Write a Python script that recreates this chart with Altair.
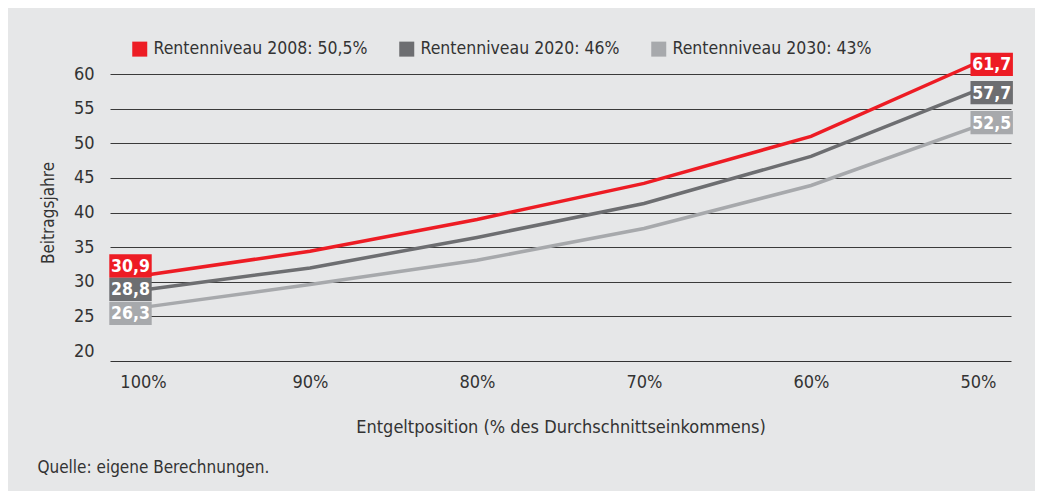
import altair as alt
import pandas as pd

categories = ["100%", "90%", "80%", "70%", "60%", "50%"]
series = ["Rentenniveau 2008: 50,5%", "Rentenniveau 2020: 46%", "Rentenniveau 2030: 43%"]
r2008 = [30.9, 34.4, 39.0, 44.2, 51.0, 61.7]
r2020 = [28.8, 32.0, 36.4, 41.3, 48.1, 57.7]
r2030 = [26.3, 29.6, 33.1, 37.7, 43.9, 52.5]
colors = ["#ed1c24", "#6d6e71", "#a7a9ac"]

rows = []
for s, vals in zip(series, [r2008, r2020, r2030]):
    for c, v in zip(categories, vals):
        rows.append({"series": s, "cat": c, "v": v})
df = pd.DataFrame(rows)

FONT = "DejaVu Sans Condensed, Liberation Sans Narrow, Roboto"
TXT = "#333333"

x = alt.X("cat:N", sort=categories,
          scale=alt.Scale(type="point", padding=0.1976),
          axis=alt.Axis(title="Entgeltposition (% des Durchschnittseinkommens)",
                        labelAngle=0, ticks=False, domainColor="#333333",
                        domainWidth=1.2, offset=10, labelPadding=12,
                        labelFontSize=18, titleFontSize=18, titlePadding=27,
                        titleFontWeight="normal", grid=False))
y = alt.Y("v:Q", scale=alt.Scale(domain=[20, 60], nice=False, zero=False),
          axis=alt.Axis(title="Beitragsjahre", values=list(range(20, 61, 5)),
                        ticks=False, domain=False, labelPadding=16,
                        labelFontSize=18, titleFontSize=17, titlePadding=16,
                        titleFontWeight="normal", grid=True,
                        gridColor="#3a3a3a", gridWidth=1.2,
                        gridOpacity={"condition": {"test": "datum.value == 20", "value": 0}, "value": 1}))

base = alt.Chart(df)
layers = []
for s, col in zip(series, colors):
    layers.append(base.transform_filter(alt.datum.series == s)
                  .mark_line(strokeWidth=3.5, color=col).encode(x=x, y=y))

BOX = "M-1,-0.55H1V0.55H-1Z"
# label box offsets (px) per series: (start dy, end dy)
start_dy = [-9.5, -0.7, 6]
end_dy = [2.1, 2.7, -3.3]
legend = alt.Legend(title=None, orient="none", legendX=21, legendY=-34,
                    direction="horizontal", symbolType="square",
                    symbolSize=225, symbolStrokeWidth=0,
                    labelFontSize=17.5, labelFont=FONT, labelColor=TXT,
                    labelOffset=5, columnPadding=30,
                    symbolOpacity=1, labelLimit=400)
for i, s in enumerate(series):
    for cat, dx, dy in [(categories[0], -12.5, start_dy[i]), (categories[-1], 13.7, end_dy[i])]:
        sub = base.transform_filter(
            (alt.datum.series == s) & (alt.datum.cat == cat)
        ).transform_calculate(lab="replace(format(datum.v, '.1f'), '.', ',')")
        box = sub.mark_point(shape=BOX, size=1800, filled=True, opacity=1,
                             strokeWidth=0, xOffset=dx, yOffset=dy).encode(
            x=x, y=y,
            fill=alt.Fill("series:N", scale=alt.Scale(domain=series, range=colors),
                          legend=legend),
        )
        txt = sub.mark_text(color="white", fontWeight="bold", fontSize=17.5, font=FONT,
                            xOffset=dx, yOffset=dy + 1, baseline="middle").encode(
            x=x, y=y, text="lab:N")
        layers += [box, txt]

chart = alt.layer(*layers).properties(
    width=901, height=277,
    title=alt.TitleParams("Quelle: eigene Berechnungen.", orient="bottom", anchor="start",
                          dx=-2, offset=24, fontSize=17, fontWeight="normal",
                          font=FONT, color=TXT),
    autosize=alt.AutoSizeParams(type="none"),
    padding={"left": 102, "top": 66, "right": 24, "bottom": 140},
).configure(
    background="#e6e7e8", font=FONT
).configure_view(stroke=None).configure_axis(
    labelFont=FONT, titleFont=FONT, labelColor=TXT, titleColor=TXT
)

chart.save("out.html", embed_options={"renderer": "svg", "actions": False})
